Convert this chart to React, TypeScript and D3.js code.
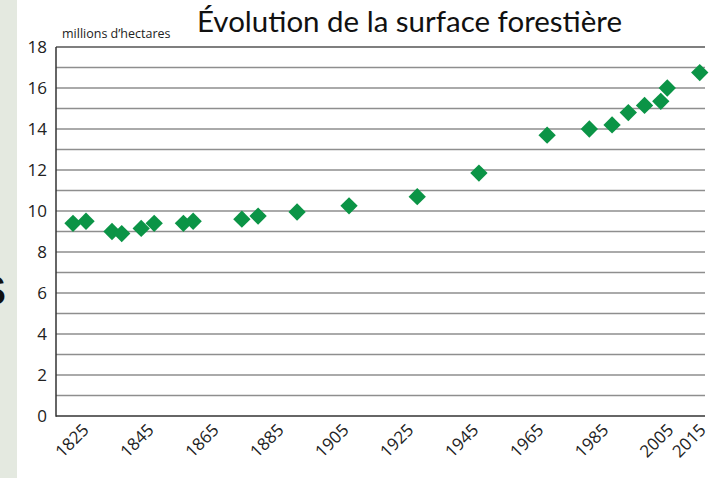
import React from 'react';
import * as d3 from 'd3';

// values (millions of hectares)
const years = [1821, 1825, 1833, 1836, 1842, 1846, 1855, 1858, 1873, 1878, 1890, 1906, 1927, 1946, 1967, 1980, 1987, 1992, 1997, 2002, 2004, 2014];
const surfaces = [9.4, 9.5, 9.0, 8.9, 9.15, 9.4, 9.4, 9.5, 9.6, 9.75, 9.95, 10.25, 10.7, 11.85, 13.7, 14.0, 14.2, 14.8, 15.15, 15.35, 16.0, 16.75];
const xTicks = [1825, 1845, 1865, 1885, 1905, 1925, 1945, 1965, 1985, 2005, 2015];
const yLabels = [0, 2, 4, 6, 8, 10, 12, 14, 16, 18];
const gridValues = d3.range(0, 19);

const W = 717;
const H = 478;

const App = () => {
  const left = 56, right = 705, top = 47, bottom = 416;
  const x = d3.scaleLinear().domain([1825, 2015]).range([86, 703]);
  const y = d3.scaleLinear().domain([0, 18]).range([bottom, top]);
  const diamond = d3.symbol().type(d3.symbolSquare).size(150)();
  const font = "'Open Sans', sans-serif";

  return (
    <svg width={W} height={H} style={{ position: 'absolute', left: 0, top: 0, background: '#fff' }}>
      {/* slide background strip on the left */}
      <rect x={0} y={0} width={17} height={H} fill="#e4e9e0" />
      <text x={-22} y={305} fontFamily="'Liberation Sans', sans-serif" fontWeight="bold" fontSize={42} fill="#111">S</text>

      {/* grid */}
      {gridValues.map(v => (
        <line key={v} x1={left} x2={right} y1={y(v)} y2={y(v)}
          stroke={v === 18 ? '#555' : v === 0 ? '#333' : '#8e8e8e'} strokeWidth={1.5} />
      ))}
      <line x1={left} x2={left} y1={top} y2={bottom + 0.75} stroke="#333" strokeWidth={1.5} />

      {/* y labels */}
      {yLabels.map(v => (
        <text key={v} x={47} y={y(v)} dy="0.36em" textAnchor="end" fontFamily={font} fontSize={17} fill="#222">{v}</text>
      ))}

      {/* x labels */}
      {xTicks.map(t => (
        <text key={t} transform={`translate(${x(t) + 4},${431}) rotate(-45)`} textAnchor="end"
          fontFamily={font} fontSize={17} fill="#222">{t}</text>
      ))}

      {/* points */}
      {years.map((yr, i) => (
        <path key={yr} d={diamond} transform={`translate(${x(yr)},${y(surfaces[i])}) rotate(45)`} fill="#0b9446" />
      ))}

      <text x={62} y={38} fontFamily={font} fontSize={12.5} fill="#222">millions d’hectares</text>
      <text x={197} y={32} fontFamily="Lato, sans-serif" fontSize={28} textLength={425} lengthAdjust="spacingAndGlyphs" fill="#111">Évolution de la surface forestière</text>
    </svg>
  );
};

export default App;
